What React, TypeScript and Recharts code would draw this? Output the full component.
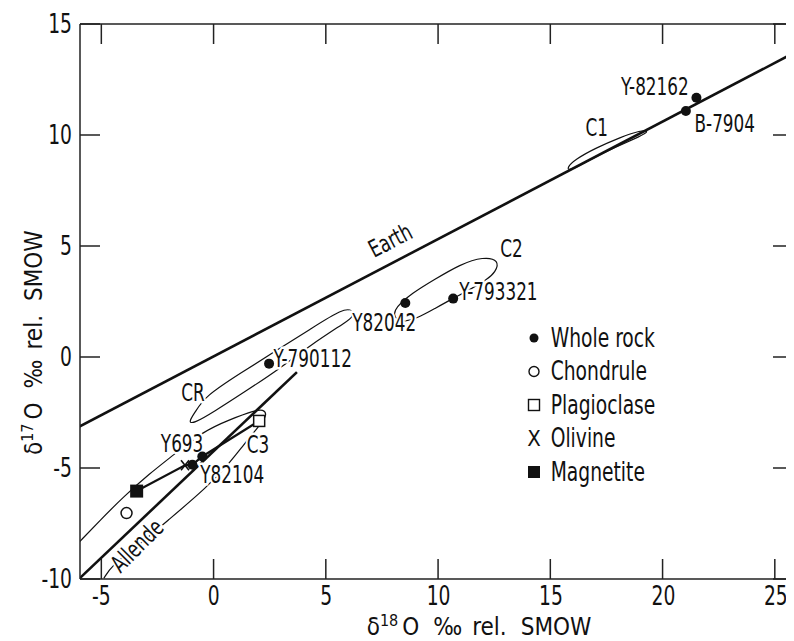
import React from 'react';
import { ComposedChart, XAxis, YAxis, Line, Scatter } from 'recharts';

const FONT = '"DejaVu Sans Condensed", "DejaVu Sans", sans-serif';

const xTicks = [-5, 0, 5, 10, 15, 20, 25];
const yTicks = [-10, -5, 0, 5, 10, 15];

// reference lines
const earthLine = [
  { x: -6, y: -3.15 },
  { x: 26, y: 13.8 },
];
const allendeLine = [
  { x: -6, y: -10 },
  { x: 3.7, y: -0.68 },
];

// magnetite - olivine - whole rock - plagioclase tie line
const tieLine = [
  { x: -3.43, y: -6.04 },
  { x: -1.28, y: -4.88 },
  { x: -0.95, y: -4.85 },
  { x: -0.51, y: -4.48 },
  { x: 2.02, y: -2.88 },
];

// field outlines
const c1Field = [
  { x: 15.69, y: 8.51 }, { x: 16.09, y: 8.91 }, { x: 16.98, y: 9.41 }, { x: 18.1, y: 9.9 },
  { x: 18.99, y: 10.22 }, { x: 19.39, y: 10.17 }, { x: 18.99, y: 9.95 }, { x: 17.88, y: 9.46 },
  { x: 16.76, y: 8.91 }, { x: 15.83, y: 8.37 },
];
const c2Field = [
  { x: 7.86, y: 2.06 }, { x: 8.88, y: 2.92 }, { x: 9.77, y: 3.46 }, { x: 10.97, y: 4.18 },
  { x: 11.99, y: 4.52 }, { x: 12.71, y: 4.36 }, { x: 12.53, y: 3.82 }, { x: 12.17, y: 3.5 },
  { x: 11.42, y: 3.05 }, { x: 10.66, y: 2.65 }, { x: 9.86, y: 2.2 }, { x: 9.06, y: 1.74 },
  { x: 8.21, y: 1.52 },
];
const crField = [
  { x: -1.14, y: -2.95 }, { x: -0.83, y: -2.49 }, { x: -0.39, y: -1.77 }, { x: 1.17, y: -0.74 },
  { x: 2.73, y: 0.26 }, { x: 4.29, y: 1.25 }, { x: 5.76, y: 2.2 }, { x: 6.2, y: 2.11 },
  { x: 6.16, y: 1.79 }, { x: 5.98, y: 1.64 }, { x: 4.29, y: 0.53 }, { x: 2.95, y: -0.51 },
  { x: 1.48, y: -1.5 }, { x: -0.03, y: -2.49 }, { x: -0.88, y: -2.99 },
];
const c3Field = [
  { x: -5.96, y: -8.31 }, { x: -5.06, y: -7.36 }, { x: -4.04, y: -6.32 }, { x: -2.84, y: -5.24 },
  { x: -1.81, y: -4.43 }, { x: -0.48, y: -3.35 }, { x: 0.73, y: -2.81 }, { x: 1.84, y: -2.4 },
  { x: 2.2, y: -2.36 }, { x: 2.37, y: -2.58 }, { x: 2.15, y: -2.94 }, { x: 1.93, y: -3.21 },
  { x: 1.31, y: -3.98 }, { x: 0.73, y: -4.74 }, { x: -0.3, y: -5.87 }, { x: -2.04, y: -7.36 },
  { x: -3.51, y: -8.62 }, { x: -4.53, y: -9.38 }, { x: -4.89, y: -9.97 },
];

// samples
const wholeRock = [
  { x: 21.47, y: 11.68 },
  { x: 21.0, y: 11.08 },
  { x: 8.52, y: 2.43 },
  { x: 10.65, y: 2.63 },
  { x: 2.46, y: -0.3 },
  { x: -0.51, y: -4.48 },
  { x: -0.95, y: -4.85 },
];
const chondrule = [{ x: -3.88, y: -7.03 }];
const plagioclase = [{ x: 2.02, y: -2.88 }];
const olivine = [{ x: -1.28, y: -4.88 }];
const magnetite = [{ x: -3.43, y: -6.04 }];

// text annotations
const annotations = [
  { x: 19.62, y: 12.2, text: 'Y-82162' },
  { x: 22.73, y: 10.49, text: 'B-7904' },
  { x: 17.03, y: 10.31, text: 'C1' },
  { x: 13.24, y: 4.86, text: 'C2' },
  { x: 12.66, y: 2.96, text: 'Y-793321' },
  { x: 7.58, y: 1.56, text: 'Y82042' },
  { x: 4.4, y: -0.06, text: 'Y-790112' },
  { x: -0.92, y: -1.59, text: 'CR' },
  { x: -1.41, y: -3.89, text: 'Y693' },
  { x: 1.97, y: -3.94, text: 'C3' },
  { x: 0.82, y: -5.29, text: 'Y82104' },
  { x: -3.42, y: -8.49, text: 'Allende' },
  { x: 7.85, y: 5.26, text: 'Earth' },
];
const angles: Record<string, number> = { Earth: -27.5, Allende: -45 };

const legendItems = ['Whole rock', 'Chondrule', 'Plagioclase', 'Olivine', 'Magnetite'];

const INK = '#111';
const SQ = 0.78; // squeeze text horizontally, the original lettering is narrow
const X_DOMAIN = [-5.95, 25.81];
const Y_DOMAIN = [-10, 15];

// plot box inside the svg (margin + 1px axis band)
const W = 786;
const H = 633;
const MARGIN = { top: 15, right: 0, bottom: 61, left: 71 };
const BOX = { left: MARGIN.left + 1, top: MARGIN.top + 1, right: W - MARGIN.right - 1, bottom: H - MARGIN.bottom - 1 };
const TICK = 20;
const px = (v: number) => BOX.left + ((v - X_DOMAIN[0]) / (X_DOMAIN[1] - X_DOMAIN[0])) * (BOX.right - BOX.left);
const py = (v: number) => BOX.bottom - ((v - Y_DOMAIN[0]) / (Y_DOMAIN[1] - Y_DOMAIN[0])) * (BOX.bottom - BOX.top);

const dotShape = (p: any) => <circle cx={p.cx} cy={p.cy} r={5} fill={INK} />;
const openCircle = (p: any) => <circle cx={p.cx} cy={p.cy} r={5.5} fill="#fff" stroke={INK} strokeWidth={1.5} />;
const openSquare = (p: any) => (
  <rect x={p.cx - 5.5} y={p.cy - 5.5} width={11} height={11} fill="#fff" stroke={INK} strokeWidth={1.5} />
);
const filledSquare = (p: any) => <rect x={p.cx - 6.5} y={p.cy - 6.5} width={13} height={13} fill={INK} />;
const cross = (p: any) => (
  <g stroke={INK} strokeWidth={1.6}>
    <line x1={p.cx - 4} y1={p.cy - 5} x2={p.cx + 4} y2={p.cy + 5} />
    <line x1={p.cx + 4} y1={p.cy - 5} x2={p.cx - 4} y2={p.cy + 5} />
  </g>
);

const textShape = (p: any) => {
  const a = angles[p.payload.text] || 0;
  return (
    <text
      x={0}
      y={0}
      textAnchor="middle"
      dominantBaseline="central"
      fontFamily={FONT}
      fontSize={24}
      fill={INK}
      stroke="#fff"
      strokeWidth={5}
      paintOrder="stroke"
      transform={`translate(${p.cx},${p.cy}) rotate(${a}) scale(${SQ},1)`}
    >
      {p.payload.text}
    </text>
  );
};

const bottomTick = (p: any) => (
  <text x={0} y={0} dy="0.71em" textAnchor="middle" fontFamily={FONT} fontSize={26} fill={INK}
    transform={`translate(${p.x},${p.y}) scale(0.8,1)`}>
    {p.payload.value}
  </text>
);
const leftTick = (p: any) => (
  <text x={0} y={0} textAnchor="end" dominantBaseline="central" fontFamily={FONT} fontSize={26} fill={INK}
    transform={`translate(${p.x},${p.y}) scale(0.8,1)`}>
    {p.payload.value}
  </text>
);

const legendMarker = (i: number, x: number, y: number) => {
  if (i === 0) return <circle cx={x} cy={y} r={4.5} fill={INK} />;
  if (i === 1) return <circle cx={x} cy={y} r={5} fill="none" stroke={INK} strokeWidth={1.4} />;
  if (i === 2) return <rect x={x - 5.5} y={y - 5.5} width={11} height={11} fill="none" stroke={INK} strokeWidth={1.4} />;
  if (i === 3)
    return (
      <text x={x} y={y} textAnchor="middle" dominantBaseline="central" fontFamily={FONT} fontSize={22} fill={INK}>
        X
      </text>
    );
  return <rect x={x - 6} y={y - 6} width={12} height={12} fill={INK} />;
};

const axisStyle = { stroke: '#222', strokeWidth: 1.5 };

export default function App() {
  return (
    <div style={{ width: W, height: H }}>
      <ComposedChart width={W} height={H} margin={MARGIN}>
        <XAxis
          xAxisId={0}
          type="number"
          dataKey="x"
          domain={X_DOMAIN}
          allowDataOverflow
          ticks={xTicks}
          interval={0}
          height={1}
          tickSize={0}
          tickMargin={8}
          axisLine={axisStyle}
          tickLine={false}
          tick={bottomTick}
        />
        <XAxis
          xAxisId="top"
          orientation="top"
          type="number"
          domain={X_DOMAIN}
          allowDataOverflow
          ticks={xTicks}
          height={1}
          axisLine={axisStyle}
          tickLine={false}
          tick={false}
        />
        <YAxis
          yAxisId={0}
          type="number"
          dataKey="y"
          domain={Y_DOMAIN}
          allowDataOverflow
          ticks={yTicks}
          interval={0}
          width={1}
          tickSize={0}
          tickMargin={8}
          axisLine={axisStyle}
          tickLine={false}
          tick={leftTick}
        />

        {/* inward tick marks on all four sides */}
        <g stroke="#222" strokeWidth={1.5}>
          {xTicks.map((t) => (
            <line key={`b${t}`} x1={px(t)} x2={px(t)} y1={BOX.bottom} y2={BOX.bottom - TICK} />
          ))}
          {xTicks.map((t) => (
            <line key={`t${t}`} x1={px(t)} x2={px(t)} y1={BOX.top} y2={BOX.top + TICK} />
          ))}
          {yTicks.map((t) => (
            <line key={`l${t}`} x1={BOX.left} x2={BOX.left + TICK} y1={py(t)} y2={py(t)} />
          ))}
          {yTicks.map((t) => (
            <line key={`r${t}`} x1={BOX.right} x2={BOX.right - TICK} y1={py(t)} y2={py(t)} />
          ))}
        </g>

        <Line data={c1Field} dataKey="y" type="basisClosed" stroke={INK} strokeWidth={1.2} dot={false} activeDot={false} isAnimationActive={false} />
        <Line data={c2Field} dataKey="y" type="basisClosed" stroke={INK} strokeWidth={1.2} dot={false} activeDot={false} isAnimationActive={false} />
        <Line data={crField} dataKey="y" type="basisClosed" stroke={INK} strokeWidth={1.2} dot={false} activeDot={false} isAnimationActive={false} />
        <Line data={c3Field} dataKey="y" type="basis" stroke={INK} strokeWidth={1.2} dot={false} activeDot={false} isAnimationActive={false} />

        <Scatter data={annotations} shape={textShape} isAnimationActive={false} />

        <Line data={earthLine} dataKey="y" type="linear" stroke={INK} strokeWidth={2.6} dot={false} activeDot={false} isAnimationActive={false} />
        <Line data={allendeLine} dataKey="y" type="linear" stroke={INK} strokeWidth={2.6} dot={false} activeDot={false} isAnimationActive={false} />
        <Line data={tieLine} dataKey="y" type="linear" stroke={INK} strokeWidth={2.2} dot={false} activeDot={false} isAnimationActive={false} />

        <Scatter data={wholeRock} shape={dotShape} isAnimationActive={false} />
        <Scatter data={chondrule} shape={openCircle} isAnimationActive={false} />
        <Scatter data={plagioclase} shape={openSquare} isAnimationActive={false} />
        <Scatter data={olivine} shape={cross} isAnimationActive={false} />
        <Scatter data={magnetite} shape={filledSquare} isAnimationActive={false} />

        <g>
          {legendItems.map((name, i) => {
            const y = 330 + i * 33.5;
            return (
              <g key={name}>
                {legendMarker(i, 526, y)}
                <text x={0} y={0} dominantBaseline="central" fontFamily={FONT} fontSize={26} fill={INK}
                  transform={`translate(542.7,${y}) scale(0.8,1)`}>
                  {name}
                </text>
              </g>
            );
          })}
        </g>

        <text x={358.7} y={627} fontFamily={FONT} fontSize={24} fill={INK}>
          <tspan>δ</tspan>
          <tspan dy={-9} fontSize={16}>18</tspan>
          <tspan dy={9} dx={4}>O</tspan>
          <tspan dx={14}>‰</tspan>
          <tspan dx={10}>rel.</tspan>
          <tspan dx={14}>SMOW</tspan>
        </text>
        <text x={33.7} y={447} transform="rotate(-90, 33.7, 447)" fontFamily={FONT} fontSize={24} fill={INK}>
          <tspan>δ</tspan>
          <tspan dy={-9} fontSize={16}>17</tspan>
          <tspan dy={9} dx={4}>O</tspan>
          <tspan dx={14}>‰</tspan>
          <tspan dx={10}>rel.</tspan>
          <tspan dx={14}>SMOW</tspan>
        </text>
      </ComposedChart>
    </div>
  );
}
